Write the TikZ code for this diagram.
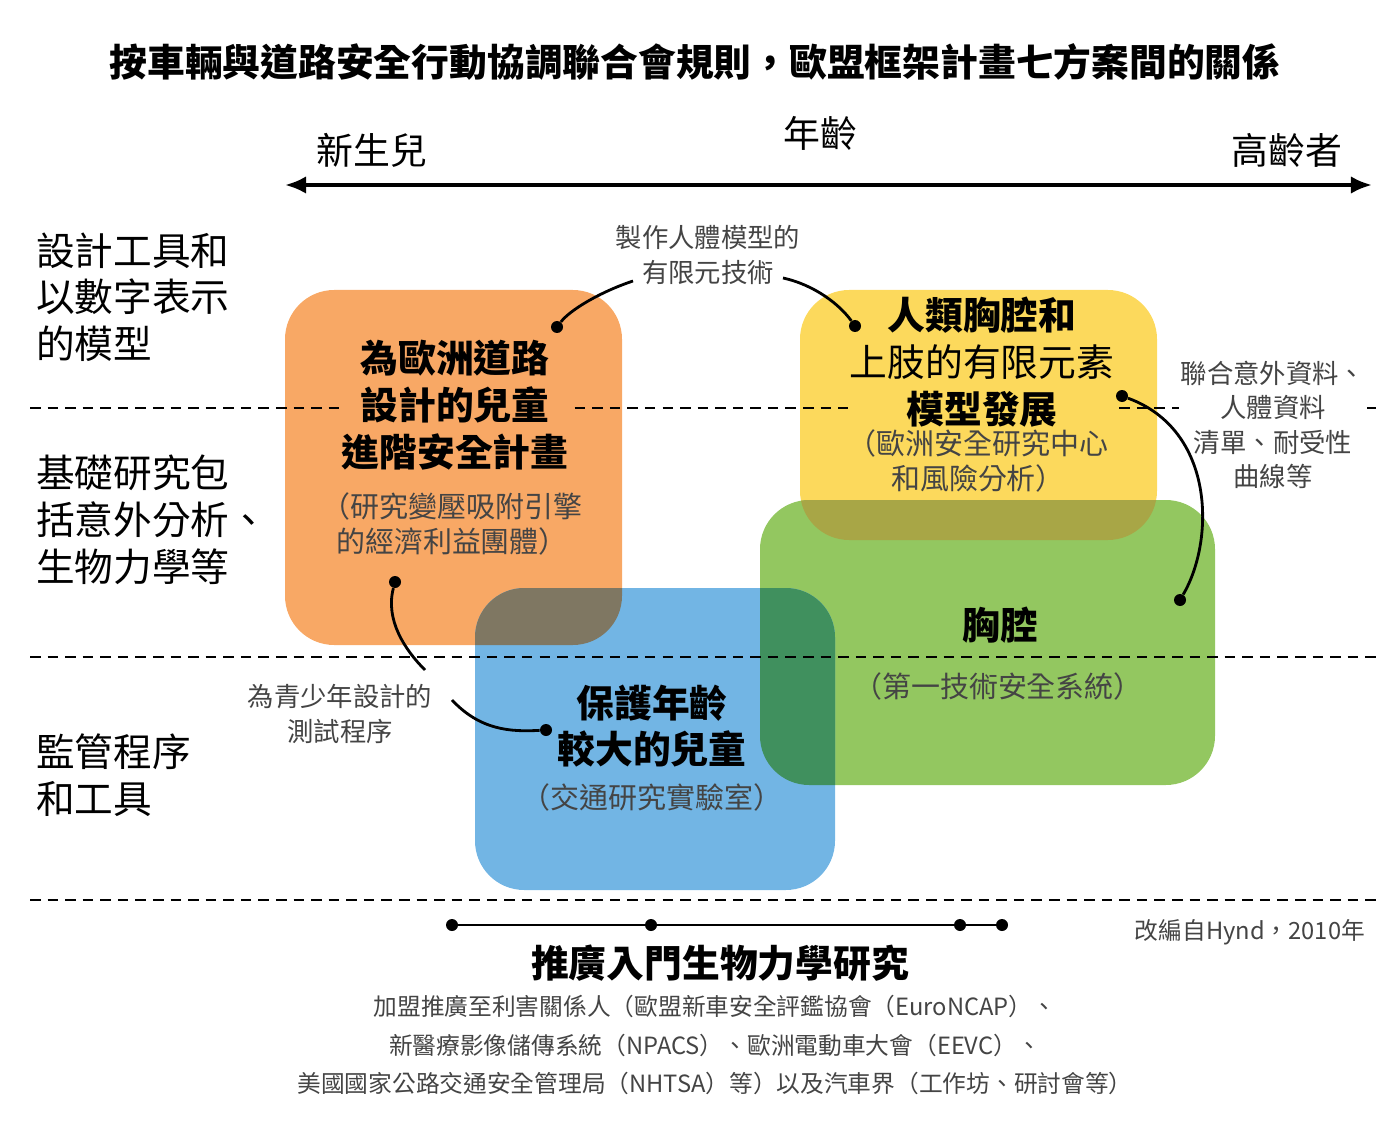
\documentclass[tikz,border=0pt]{standalone}
\usepackage{fontspec}
\setmainfont{Noto Sans CJK TC}
\usepackage{tikz}
\usetikzlibrary{arrows.meta}

\definecolor{orangebox}{HTML}{F8A865}
\definecolor{yellowbox}{HTML}{FCD95C}
\definecolor{greenbox}{HTML}{93C760}
\definecolor{bluebox}{HTML}{72B5E4}
\definecolor{orangeblue}{HTML}{7F7762}
\definecolor{greenblue}{HTML}{40905E}
\definecolor{yellowgreen}{HTML}{A8A646}
\definecolor{notegray}{HTML}{444444}

\begin{document}
\begin{tikzpicture}[x=0.02cm, y=-0.02cm]
		\tikzset{
			title/.style={font=\fontsize{21.5}{26}\selectfont\bfseries},
			side/.style={align=left, anchor=west, font=\fontsize{22}{26.6}\selectfont},
			age/.style={font=\fontsize{21}{25}\selectfont},
			head/.style={align=center, font=\fontsize{21.5}{26.6}\selectfont\bfseries, inner sep=1pt},
			sub/.style={align=center, font=\fontsize{16.5}{19.5}\selectfont, text=notegray},
			note/.style={align=center, font=\fontsize{15}{19.5}\selectfont, text=notegray, fill=white, inner sep=1pt},
			foot/.style={align=center, font=\fontsize{13.5}{22}\selectfont, text=notegray},
			dot/.style={circle, fill=black, inner sep=0pt, minimum size=12*0.02cm},
			link/.style={line width=1.6pt},
			level/.style={dashed, line width=0.8pt, dash pattern=on 6pt off 4pt}
		}
		\useasboundingbox (0,0) rectangle (1390,1125);

		% boxes
		\fill[orangebox, rounded corners=28pt] (285,290) rectangle (622,645);
		\fill[yellowbox, rounded corners=28pt] (800,290) rectangle (1157,540);
		\fill[greenbox, rounded corners=28pt] (760,500) rectangle (1215,785);
		\fill[bluebox, rounded corners=28pt] (475,588) rectangle (835,890);
		% overlaps
		\begin{scope}
			\clip[rounded corners=28pt] (285,290) rectangle (622,645);
			\fill[orangeblue, rounded corners=28pt] (475,588) rectangle (835,890);
		\end{scope}
		\begin{scope}
			\clip[rounded corners=28pt] (760,500) rectangle (1215,785);
			\fill[greenblue, rounded corners=28pt] (475,588) rectangle (835,890);
		\end{scope}
		\begin{scope}
			\clip[rounded corners=28pt] (760,500) rectangle (1215,785);
			\fill[yellowgreen, rounded corners=28pt] (800,290) rectangle (1157,540);
		\end{scope}

		% levels
		\draw[level] (30,408) -- (1380,408);
		\draw[level] (30,657) -- (1380,657);
		\draw[level] (30,900) -- (1380,900);

		% title and age axis
		\node[title] (heading) at (695,62) {按車輛與道路安全行動協調聯合會規則，歐盟框架計畫七方案間的關係};
		\node[age] (young) at (372,150) {新生兒};
		\node[age] (agelabel) at (820,133) {年齡};
		\node[age] (old) at (1287,150) {高齡者};
		\coordinate (axisl) at (285,185);
		\coordinate (axisr) at (1372,185);
		\draw[line width=2.2pt, {Latex[length=12pt,width=10pt]}-{Latex[length=12pt,width=10pt]}] (axisl) -- (axisr);

		% left labels
		\node[side] (design) at (30,297) {設計工具和\\以數字表示\\的模型};
		\node[side] (basic) at (30,520) {基礎研究包\\括意外分析、\\生物力學等};
		\node[side] (regul) at (30,775) {監管程序\\和工具};

		% box texts
		\node[head, fill=orangebox] (child) at (455,405) {為歐洲道路\\設計的兒童\\進階安全計畫};
		\node[sub] (childsub) at (452,524) {（研究變壓吸附引擎\\的經濟利益團體）};
		\node[head, fill=yellowbox] (thorax) at (982,362) {人類胸腔和\\{\mdseries 上肢的有限元素}\\模型發展};
		\node[sub] (thoraxsub) at (978,461) {（歐洲安全研究中心\\和風險分析）};
		\node[head] (chest) at (1000,625) {胸腔};
		\node[sub] (chestsub) at (998,686) {（第一技術安全系統）};
		\node[head] (older) at (652,726) {保護年齡\\較大的兒童};
		\node[sub] (oldersub) at (652,797) {（交通研究實驗室）};

		% notes
		\node[note] (fem) at (708,255) {製作人體模型的\\有限元技術};
		\node[note] (accident) at (1273,425) {聯合意外資料、\\人體資料\\清單、耐受性\\曲線等};
		\node[note] (teen) at (340,714) {為青少年設計的\\測試程序};
		\node[dot] (d1) at (557,327) {};
		\node[dot] (d2) at (855,326) {};
		\node[dot] (d3) at (1122,396) {};
		\node[dot] (d4) at (1180,600) {};
		\node[dot] (d5) at (395,582) {};
		\node[dot] (d6) at (546,730) {};
		\coordinate (t1) at (633,281);
		\coordinate (t2) at (783,278);
		\coordinate (t3) at (425,670);
		\coordinate (t4) at (452,700);
		\draw[link] (t1) .. controls (600,292) and (570,310) .. (d1);
		\draw[link] (t2) .. controls (815,285) and (840,305) .. (d2);
		\draw[link] (d3) .. controls (1215,430) and (1215,540) .. (d4);
		\draw[link] (d5) .. controls (385,620) and (405,650) .. (t3);
		\draw[link] (t4) .. controls (480,730) and (510,732) .. (d6);

		% promotion line
		\node[dot] (p1) at (452,925) {};
		\node[dot] (p2) at (651,925) {};
		\node[dot] (p3) at (960,925) {};
		\node[dot] (p4) at (1002,925) {};
		\draw[link] (p1) -- (p2) -- (p3) -- (p4);
		\node[font=\fontsize{13.5}{16}\selectfont, text=notegray] (source) at (1250,932) {改編自Hynd，2010年};
		\node[head] (promo) at (720,963) {推廣入門生物力學研究};
		\node[foot] (partners) at (715,1045) {加盟推廣至利害關係人（歐盟新車安全評鑑協會（EuroNCAP）、\\新醫療影像儲傳系統（NPACS）、歐洲電動車大會（EEVC）、\\美國國家公路交通安全管理局（NHTSA）等）以及汽車界（工作坊、研討會等）};
	\end{tikzpicture}
\end{document}
